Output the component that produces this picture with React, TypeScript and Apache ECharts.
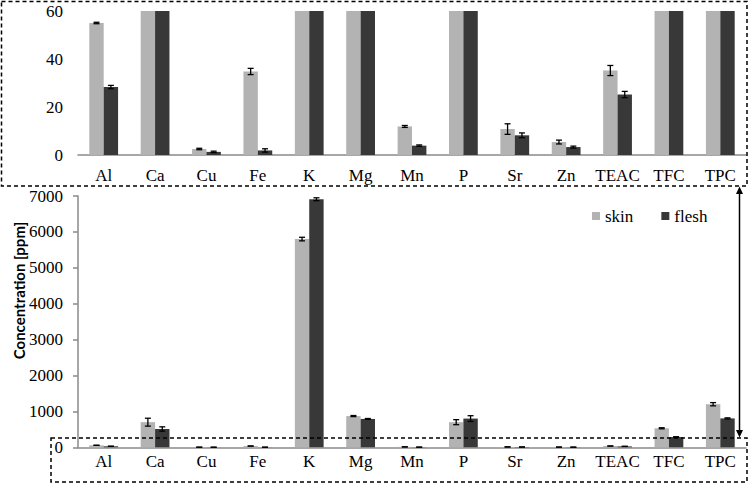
import React, { useEffect, useRef } from "react";
import * as echarts from "echarts";

const categories = ["Al", "Ca", "Cu", "Fe", "K", "Mg", "Mn", "P", "Sr", "Zn", "TEAC", "TFC", "TPC"];
const skinValues = [55, 700, 2.5, 34.8, 5800, 870, 11.9, 700, 10.8, 5.4, 35.2, 530, 1200];
const fleshValues = [28.3, 510, 1.3, 1.9, 6910, 790, 3.9, 800, 8.2, 3.3, 25.2, 285, 805];
const skinErrors = [0.3, 110, 0.3, 1.3, 50, 15, 0.4, 70, 2.2, 0.8, 2.1, 15, 45];
const fleshErrors = [0.7, 60, 0.3, 0.7, 40, 12, 0.3, 80, 1.0, 0.4, 1.3, 10, 15];
const topTicks = { min: 0, max: 60, interval: 20 };
const bottomTicks = { min: 0, max: 7000, interval: 1000 };
const yTitle = "Concentration [ppm]";

const FONT = "Times New Roman, Liberation Serif, serif";
const SKIN = "#b3b3b3";
const FLESH = "#383838";

function errData(vals: number[], errs: number[], max: number) {
  const out: number[][] = [];
  vals.forEach((v, i) => {
    if (v + errs[i] <= max) out.push([i, v, errs[i]]);
  });
  return out;
}

function makeRender(sign: number) {
  return (params: any, api: any) => {
    const idx = api.value(0);
    const v = api.value(1);
    const e = api.value(2);
    const band = api.size([1, 0])[0];
    const off = band * 0.14 * sign;
    const top = api.coord([idx, v + e]);
    const bot = api.coord([idx, v - e]);
    const x = top[0] + off;
    const cap = 3;
    const st = { stroke: "#000", lineWidth: 1.3 };
    return {
      type: "group",
      children: [
        { type: "line", shape: { x1: x, y1: top[1], x2: x, y2: bot[1] }, style: st },
        { type: "line", shape: { x1: x - cap, y1: top[1], x2: x + cap, y2: top[1] }, style: st },
        { type: "line", shape: { x1: x - cap, y1: bot[1], x2: x + cap, y2: bot[1] }, style: st },
      ],
    };
  };
}

export default function App() {
  const ref = useRef<HTMLDivElement>(null);
  useEffect(() => {
    if (!ref.current) return;
    const chart = echarts.init(ref.current, undefined, { renderer: "svg" });
    const labelStyle = { color: "#000", fontSize: 17, fontFamily: FONT };
    const axisLine = { show: true, lineStyle: { color: "#8a8a8a", width: 1.5 } };
    const barCommon = { barWidth: "28%", barGap: "0%", clip: true };
    const dash = { fill: "none", stroke: "#000", lineWidth: 1.5, lineDash: [4, 3] };
    const option: any = {
      animation: false,
      backgroundColor: "#fff",
      textStyle: { fontFamily: FONT },
      legend: {
        data: ["skin", "flesh"],
        left: 592,
        top: 207.5,
        padding: 0,
        itemWidth: 8,
        itemHeight: 8,
        itemGap: 28,
        icon: "rect",
        textStyle: { color: "#000", fontSize: 17, fontFamily: FONT },
      },
      grid: [
        { left: 78, width: 668, top: 11, height: 144 },
        { left: 78, width: 668, top: 196, height: 251.3 },
      ],
      xAxis: [
        {
          type: "category", gridIndex: 0, data: categories,
          axisLine, axisTick: { show: false },
          axisLabel: { ...labelStyle, margin: 12, interval: 0 },
        },
        {
          type: "category", gridIndex: 1, data: categories,
          axisLine, axisTick: { show: false },
          axisLabel: { ...labelStyle, margin: 6, interval: 0 },
        },
      ],
      yAxis: [
        {
          type: "value", gridIndex: 0, ...topTicks,
          axisLine: { show: false }, axisTick: { show: false }, splitLine: { show: false },
          axisLabel: { ...labelStyle, margin: 15 },
        },
        {
          type: "value", gridIndex: 1, ...bottomTicks,
          axisLine, axisTick: { show: true, length: 5, lineStyle: { color: "#8a8a8a", width: 1.5 } },
          splitLine: { show: false },
          axisLabel: { ...labelStyle, margin: 15, formatter: (v: number) => String(v) },
        },
      ],
      series: [
        { name: "skin", type: "bar", xAxisIndex: 0, yAxisIndex: 0, data: skinValues, itemStyle: { color: SKIN }, ...barCommon },
        { name: "flesh", type: "bar", xAxisIndex: 0, yAxisIndex: 0, data: fleshValues, itemStyle: { color: FLESH }, ...barCommon },
        { name: "skin", type: "bar", xAxisIndex: 1, yAxisIndex: 1, data: skinValues, itemStyle: { color: SKIN }, ...barCommon },
        { name: "flesh", type: "bar", xAxisIndex: 1, yAxisIndex: 1, data: fleshValues, itemStyle: { color: FLESH }, ...barCommon },
        { name: "skinErr0", type: "custom", xAxisIndex: 0, yAxisIndex: 0, renderItem: makeRender(-1), data: errData(skinValues, skinErrors, topTicks.max), encode: { x: 0, y: 1 }, z: 5 },
        { name: "fleshErr0", type: "custom", xAxisIndex: 0, yAxisIndex: 0, renderItem: makeRender(1), data: errData(fleshValues, fleshErrors, topTicks.max), encode: { x: 0, y: 1 }, z: 5 },
        { name: "skinErr1", type: "custom", xAxisIndex: 1, yAxisIndex: 1, renderItem: makeRender(-1), data: errData(skinValues, skinErrors, bottomTicks.max), encode: { x: 0, y: 1 }, z: 5 },
        { name: "fleshErr1", type: "custom", xAxisIndex: 1, yAxisIndex: 1, renderItem: makeRender(1), data: errData(fleshValues, fleshErrors, bottomTicks.max), encode: { x: 0, y: 1 }, z: 5 },
      ],
      graphic: [
        {
          type: "text", x: 19, y: 290.5, rotation: Math.PI / 2,
          style: { text: yTitle, fill: "#000", font: "bold 15px Lato, 'Open Sans', sans-serif", textAlign: "center", textVerticalAlign: "middle", verticalAlign: "middle" },
        },
        { type: "rect", shape: { x: 1.5, y: 1.5, width: 745.5, height: 184.5 }, style: dash, z: 10 },
        { type: "rect", shape: { x: 51, y: 438, width: 696, height: 44 }, style: dash, z: 10 },
        { type: "line", shape: { x1: 739.5, y1: 192, x2: 739.5, y2: 432 }, style: { stroke: "#000", lineWidth: 1.5 }, z: 10 },
        { type: "polygon", shape: { points: [[739.5, 186.5], [736, 194], [743, 194]] }, style: { fill: "#000" }, z: 10 },
        { type: "polygon", shape: { points: [[739.5, 437.5], [736, 430], [743, 430]] }, style: { fill: "#000" }, z: 10 },
      ],
    };
    chart.setOption(option);
    return () => chart.dispose();
  }, []);
  return <div ref={ref} style={{ width: 750, height: 484, position: "absolute", left: 0, top: 0 }} />;
}
